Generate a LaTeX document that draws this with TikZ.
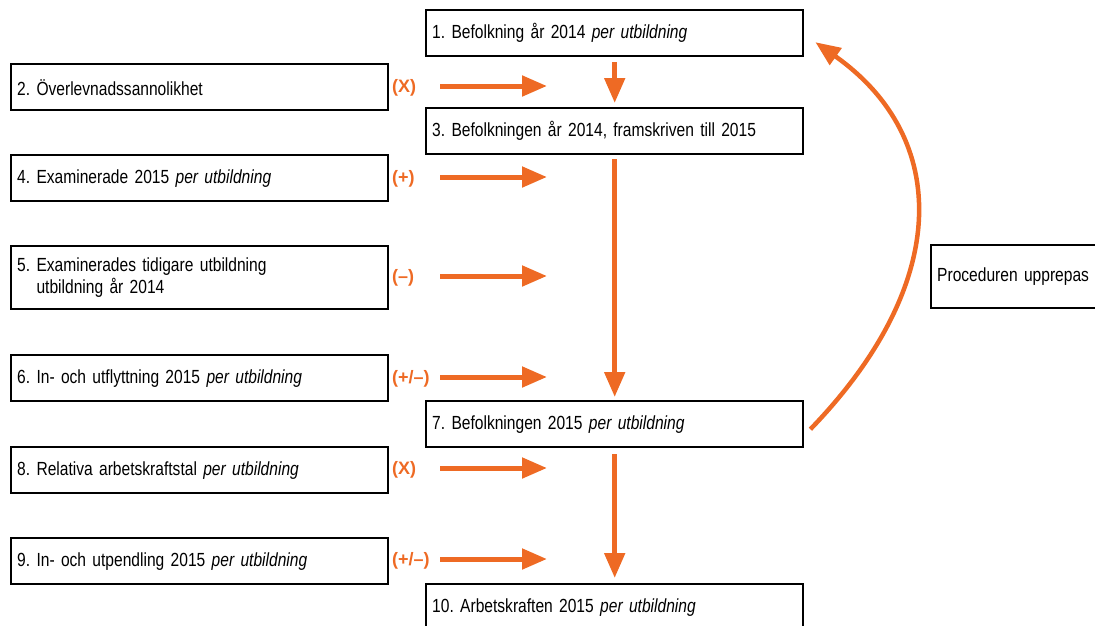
\documentclass[tikz,border=0pt]{standalone}
\usepackage{fontspec}
\setmainfont{Liberation Sans}[FakeStretch=0.82]
\newfontfamily\opfont{Liberation Sans}
\usetikzlibrary{arrows.meta}
\definecolor{scborange}{HTML}{EE6A24}
\frenchspacing

\begin{document}
\begin{tikzpicture}[x=1pt, y=-1pt,
  box/.style={draw, line width=2.4pt, anchor=north west, minimum height=46pt,
    text width=365pt, inner xsep=6pt, align=left, font=\fontsize{19}{22}\selectfont},
  op/.style={anchor=west, inner sep=0pt, yshift=-2pt, text=scborange, font=\opfont\fontsize{18}{20}\selectfont\bfseries},
  flow/.style={draw=scborange, line width=5pt, -{Triangle[length=25pt, width=20pt]}}]
  \useasboundingbox (0,0) rectangle (1095,625);

  % Middle column
  \node[box] (b1) at (425,9) {1. Befolkning år 2014 \textit{per utbildning}};
  \node[box] (b3) at (425,107) {3. Befolkningen år 2014, framskriven till 2015};
  \node[box] (b7) at (425,400) {7. Befolkningen 2015 \textit{per utbildning}};
  \node[box] (b10) at (425,583) {10. Arbetskraften 2015 \textit{per utbildning}};

  % Left column
  \node[box] (b2) at (10,63) {2. Överlevnadssannolikhet};
  \node[box] (b4) at (10,154) {4. Examinerade 2015 \textit{per utbildning}};
  \node[box, minimum height=63pt] (b5) at (10,245)
    {5. Examinerades tidigare utbildning\\\phantom{5. }utbildning år 2014};
  \node[box] (b6) at (10,354) {6. In- och utflyttning 2015 \textit{per utbildning}};
  \node[box] (b8) at (10,446) {8. Relativa arbetskraftstal \textit{per utbildning}};
  \node[box] (b9) at (10,537) {9. In- och utpendling 2015 \textit{per utbildning}};

  \node[box, minimum height=63pt, text width=158pt] (proc) at (930,244) {Proceduren upprepas};

  % Operators
  \node[op] (op2) at (392,86) {(X)};
  \node[op] (op4) at (392,177) {(+)};
  \node[op] (op5) at (392,276) {(–)};
  \node[op] (op6) at (392,377) {(+/–)};
  \node[op] (op8) at (392,468) {(X)};
  \node[op] (op9) at (392,559) {(+/–)};

  % Inflows
  \coordinate (in2) at (440,86);   \coordinate (out2) at (547,86);
  \coordinate (in4) at (440,177);  \coordinate (out4) at (547,177);
  \coordinate (in5) at (440,276);  \coordinate (out5) at (547,276);
  \coordinate (in6) at (440,377);  \coordinate (out6) at (547,377);
  \coordinate (in8) at (440,468);  \coordinate (out8) at (547,468);
  \coordinate (in9) at (440,559);  \coordinate (out9) at (547,559);
  \draw[flow] (in2) -- (out2);
  \draw[flow] (in4) -- (out4);
  \draw[flow] (in5) -- (out5);
  \draw[flow] (in6) -- (out6);
  \draw[flow] (in8) -- (out8);
  \draw[flow] (in9) -- (out9);

  % Main flow
  \draw[flow, shorten <=5pt, shorten >=4pt] (b1) -- (b3);
  \draw[flow, shorten <=4pt, shorten >=3pt] (b3) -- (b7);
  \draw[flow, shorten <=6pt, shorten >=5pt] (b7) -- (b10);

  % Repeat
  \draw[flow, line width=4.5pt] ([shift={(6pt,-5pt)}]b7.east)
    .. controls (951,284) and (951,138) .. ([shift={(11pt,-9pt)}]b1.east);
\end{tikzpicture}
\end{document}
